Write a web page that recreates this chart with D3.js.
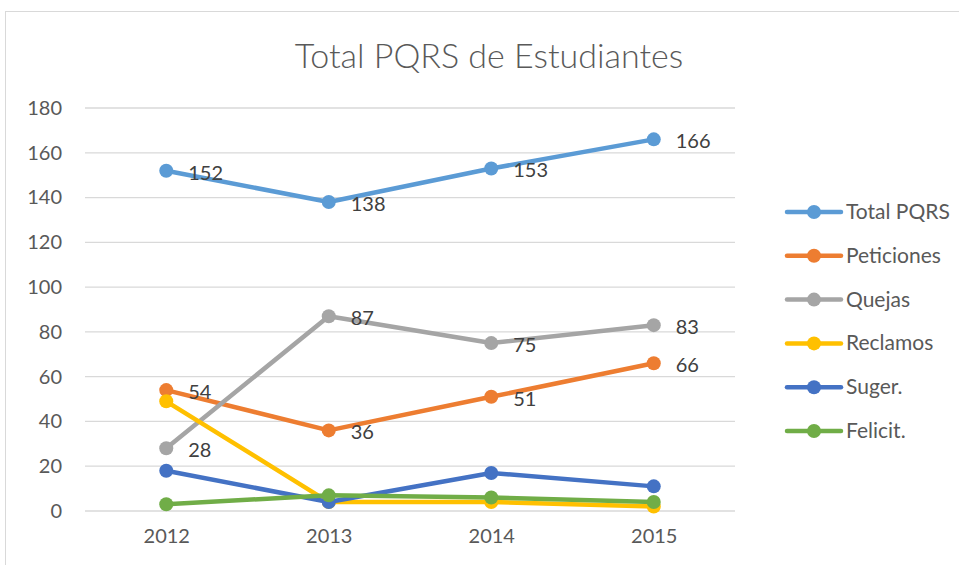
<!DOCTYPE html>
<html>
<head>
<meta charset="utf-8">
<script src="https://cdn.jsdelivr.net/npm/d3@7"></script>
<style>
  body { margin: 0; background: #fff; }
  text { font-family: Lato, "Open Sans", sans-serif; }
</style>
</head>
<body>
<div class="canvas"></div>
<script>
const years = ['2012', '2013', '2014', '2015'];
const yTicks = [0, 20, 40, 60, 80, 100, 120, 140, 160, 180];

const totalPQRS = [152, 138, 153, 166];
const peticiones = [54, 36, 51, 66];
const quejas = [28, 87, 75, 83];
const reclamos = [49, 4, 4, 2];
const suger = [18, 4, 17, 11];
const felicit = [3, 7, 6, 4];

const series = [
  { name: 'Total PQRS', values: totalPQRS, color: '#5B9BD5', labels: true },
  { name: 'Peticiones', values: peticiones, color: '#ED7D31', labels: true },
  { name: 'Quejas', values: quejas, color: '#A5A5A5', labels: true },
  { name: 'Reclamos', values: reclamos, color: '#FFC000', labels: false },
  { name: 'Suger.', values: suger, color: '#4472C4', labels: false },
  { name: 'Felicit.', values: felicit, color: '#70AD47', labels: false }
];

const dims = { width: 959, height: 565 };
const plot = { left: 85, right: 735, top: 108, bottom: 511 };

const svg = d3.select('.canvas')
  .append('svg')
  .attr('width', dims.width)
  .attr('height', dims.height);

// chart border
svg.append('rect')
  .attr('x', 5.5).attr('y', 11.5)
  .attr('width', 970).attr('height', 600)
  .attr('fill', 'none')
  .attr('stroke', '#d9d9d9');

svg.append('text')
  .attr('x', 489).attr('y', 68)
  .attr('text-anchor', 'middle')
  .attr('font-size', 34)
  .attr('font-weight', 300)
  .attr('fill', '#595959')
  .text('Total PQRS de Estudiantes');

const x = d3.scalePoint()
  .domain(years)
  .range([plot.left, plot.right])
  .padding(0.5);

const y = d3.scaleLinear()
  .domain([0, 180])
  .range([plot.bottom, plot.top]);

// gridlines
svg.append('g')
  .selectAll('line')
  .data(yTicks)
  .enter().append('line')
  .attr('x1', plot.left).attr('x2', plot.right)
  .attr('y1', d => y(d)).attr('y2', d => y(d))
  .attr('stroke', '#d9d9d9')
  .attr('stroke-width', 1.3);

// y axis labels
const yAxis = svg.append('g')
  .attr('transform', `translate(${plot.left - 23},0)`)
  .call(d3.axisLeft(y).tickValues(yTicks).tickSize(0).tickPadding(0));
yAxis.select('.domain').remove();
yAxis.selectAll('text')
  .attr('font-size', 20)
  .attr('fill', '#595959')
  .style('font-family', 'Lato, "Open Sans", sans-serif');

// x axis labels
const xAxis = svg.append('g')
  .attr('transform', `translate(0,${plot.bottom + 18})`)
  .call(d3.axisBottom(x).tickSize(0).tickPadding(0));
xAxis.select('.domain').remove();
xAxis.selectAll('text')
  .attr('font-size', 20)
  .attr('fill', '#595959')
  .style('font-family', 'Lato, "Open Sans", sans-serif');

const line = d3.line()
  .x((d, i) => x(years[i]))
  .y(d => y(d));

const groups = svg.selectAll('.series')
  .data(series)
  .enter().append('g')
  .attr('class', 'series');

groups.append('path')
  .attr('d', d => line(d.values))
  .attr('fill', 'none')
  .attr('stroke', d => d.color)
  .attr('stroke-width', 4.5)
  .attr('stroke-linejoin', 'round');

groups.selectAll('circle')
  .data(d => d.values.map((v, i) => ({ v, i, color: d.color })))
  .enter().append('circle')
  .attr('cx', d => x(years[d.i]))
  .attr('cy', d => y(d.v))
  .attr('r', 7)
  .attr('fill', d => d.color);

// data labels
groups.filter(d => d.labels)
  .selectAll('.lbl')
  .data(d => d.values.map((v, i) => ({ v, i })))
  .enter().append('text')
  .attr('class', 'lbl')
  .attr('x', d => x(years[d.i]) + 22)
  .attr('y', d => y(d.v) + 9)
  .attr('font-size', 20)
  .attr('fill', '#404040')
  .text(d => d.v);

// legend
const legend = svg.append('g')
  .selectAll('g')
  .data(series)
  .enter().append('g')
  .attr('transform', (d, i) => `translate(787,${212 + i * 43.8})`);

legend.append('line')
  .attr('x1', 0).attr('x2', 54)
  .attr('stroke', d => d.color)
  .attr('stroke-width', 4.5)
  .attr('stroke-linecap', 'round');

legend.append('circle')
  .attr('cx', 27).attr('r', 7)
  .attr('fill', d => d.color);

legend.append('text')
  .attr('x', 59).attr('y', 7)
  .attr('font-size', 21)
  .attr('fill', '#595959')
  .text(d => d.name);
</script>
</body>
</html>
